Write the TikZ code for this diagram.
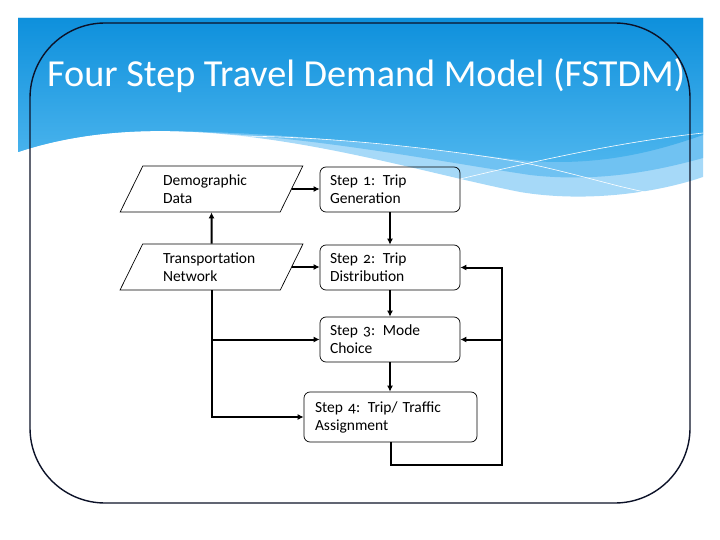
\documentclass[tikz,border=0pt]{standalone}
\usepackage{fontspec}
\setmainfont{Carlito}
\newfontfamily\boxfont[Numbers=OldStyle]{Carlito}
\usepackage{xcolor}
\usetikzlibrary{arrows.meta,positioning,shapes.geometric}
\definecolor{skytop}{RGB}{14,144,220}
\definecolor{skybot}{RGB}{78,182,238}
\definecolor{wavemid}{RGB}{112,194,242}
\definecolor{wavelight}{RGB}{166,217,248}
\definecolor{framecol}{RGB}{12,18,40}

\begin{document}
\begin{tikzpicture}[x=1pt,y=-1pt,>={Latex[length=6pt,width=6pt]},
databox/.style={draw,line width=0.7pt,trapezium,trapezium left angle=61,trapezium right angle=119,
  trapezium stretches=true,minimum width=183pt,minimum height=46pt,inner sep=0pt,
  text width=97pt,align=left,font=\boxfont\fontsize{15.5}{18}\selectfont},
stepbox/.style={draw,line width=0.7pt,rounded corners=6pt,minimum height=45pt,text width=120pt,
  inner xsep=10pt,inner ysep=0pt,align=left,font=\boxfont\fontsize{15.5}{18}\selectfont},
link/.style={->,line width=2pt}]
\useasboundingbox (0,0) rectangle (720,540);

\fill[wavelight] (18,152) .. controls (60,138) and (110,130) .. (170,131)
  .. controls (300,134) and (420,172) .. (520,192)
  .. controls (580,202) and (650,195) .. (703,177) -- (703,18) -- (18,18) -- cycle;
\fill[wavemid] (18,152) .. controls (60,138) and (110,130) .. (170,131)
  .. controls (300,134) and (430,160) .. (530,175)
  .. controls (600,183) and (660,170) .. (703,158) -- (703,18) -- (18,18) -- cycle;
\shade[top color=skytop,bottom color=skybot] (18,152) .. controls (60,138) and (110,130) .. (170,131)
  .. controls (300,133) and (420,148) .. (520,160)
  .. controls (600,168) and (660,150) .. (703,135) -- (703,18) -- (18,18) -- cycle;
\draw[white,line width=0.6pt] (230,136) .. controls (350,136) and (480,155) .. (520,162)
  .. controls (570,172) and (610,185) .. (645,192);
\draw[white,line width=0.6pt] (460,179) .. controls (540,160) and (620,142) .. (703,133);

\draw[framecol,line width=1.4pt,rounded corners=75pt] (30,23) rectangle (690,503);

\node[text=white,font=\fontsize{38.2}{44}\selectfont,anchor=base west,inner sep=0pt] (title) at (47,87)
  {Four Step Travel Demand Model (FSTDM)};

\node[databox] (demo) at (211.5,189) {Demographic\\Data};
\node[databox] (trans) at (211.5,267) {Transportation\\Network};
\node[stepbox] (s1) at (390,189.5) {Step 1:\enspace Trip\\Generation};
\node[stepbox] (s2) at (390,267.5) {Step 2:\enspace Trip\\Distribution};
\node[stepbox] (s3) at (390,339.5) {Step 3:\enspace Mode\\Choice};
\node[stepbox,text width=151pt,minimum height=50pt,inner xsep=11pt] (s4) at (390.5,417)
  {Step 4:\enspace Trip/ Traffic\\Assignment};
\coordinate (back) at (502,465);

\draw[link] (demo.east) -- (demo.east -| s1.west);
\draw[link] (trans.east) -- (trans.east -| s2.west);
\draw[link] (trans.north) -- (demo.south);
\draw[link] (trans.south) |- (s4.west);
\draw[link] (trans.south |- s3.west) -- (s3.west);
\draw[link] (s1.south) -- (s2.north);
\draw[link] (s2.south) -- (s3.north);
\draw[link] (s3.south) -- (s3.south |- s4.north);
\draw[link] (s4.south) |- (back) |- (s2.east);
\draw[link] (back |- s3.east) -- (s3.east);
\end{tikzpicture}
\end{document}
